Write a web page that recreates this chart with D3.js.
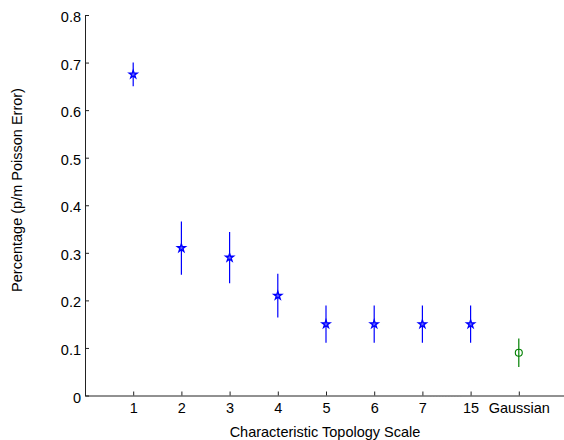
<!DOCTYPE html>
<html>
<head>
<meta charset="utf-8">
<script src="https://cdn.jsdelivr.net/npm/d3@7"></script>
<style>
  body { margin: 0; background: #fff; }
  svg text { font-family: "Liberation Sans", Arial, sans-serif; fill: #000; }
</style>
</head>
<body>
<svg id="chart" width="564" height="440"></svg>
<script>
// values
var categories = ['1', '2', '3', '4', '5', '6', '7', '15', 'Gaussian'];
var percent = [0.675, 0.31, 0.29, 0.21, 0.15, 0.15, 0.15, 0.15, 0.09];
var poissonErr = [0.025, 0.056, 0.054, 0.046, 0.039, 0.039, 0.039, 0.039, 0.03];
var yTicks = [0, 0.1, 0.2, 0.3, 0.4, 0.5, 0.6, 0.7, 0.8];

var svg = d3.select('#chart'),
    plotLeft = 85,
    plotTop = 15,
    plotBottom = 395.5,
    plotRight = 567;

var x = d3.scaleLinear().domain([0, 10]).range([plotLeft, plotRight]);
var y = d3.scaleLinear().domain([0, 0.8]).range([plotBottom, plotTop]);

var points = categories.map(function (c, i) {
  return { label: c, pos: i + 1, v: percent[i], e: poissonErr[i], gauss: c === 'Gaussian' };
});

// axes (MATLAB style: ticks pointing in)
var yAxis = d3.axisLeft(y).tickValues(yTicks).tickSizeInner(-4).tickSizeOuter(0).tickPadding(4)
  .tickFormat(function (d) { return d === 0 ? '0' : d3.format('.1f')(d); });
var gy = svg.append('g').attr('transform', 'translate(' + plotLeft + ',0)').call(yAxis);

var xAxis = d3.axisBottom(x).tickValues(points.map(function (d) { return d.pos; }))
  .tickSizeInner(-4).tickSizeOuter(0).tickPadding(7)
  .tickFormat(function (d) { return categories[d - 1]; });
var gx = svg.append('g').attr('transform', 'translate(0,' + plotBottom + ')').call(xAxis);

[gx, gy].forEach(function (g) {
  g.select('.domain').attr('stroke', '#222').attr('stroke-width', 1);
  g.selectAll('.tick line').attr('stroke', '#222');
  g.selectAll('text').attr('font-size', 14.5).attr('font-family', '"Liberation Sans", Arial, sans-serif');
});
gy.selectAll('.tick text').attr('dy', '0.45em');

// dotted break between 7 and 15
svg.append('line')
  .attr('x1', x(7) + 8).attr('x2', x(8) - 9)
  .attr('y1', plotBottom + 1).attr('y2', plotBottom + 1)
  .attr('stroke', '#888').attr('stroke-width', 1).attr('stroke-dasharray', '1,2');

// error bars
svg.append('g').selectAll('line').data(points).enter().append('line')
  .attr('x1', function (d) { return x(d.pos); })
  .attr('x2', function (d) { return x(d.pos); })
  .attr('y1', function (d) { return y(d.v + d.e); })
  .attr('y2', function (d) { return y(d.v - d.e); })
  .attr('stroke', function (d) { return d.gauss ? '#008000' : '#0000ff'; })
  .attr('stroke-width', 1.2);

// markers
var star = d3.symbol().type(d3.symbolStar).size(20);
svg.append('g').selectAll('path').data(points.filter(function (d) { return !d.gauss; })).enter().append('path')
  .attr('d', star)
  .attr('transform', function (d) { return 'translate(' + x(d.pos) + ',' + y(d.v) + ')'; })
  .attr('fill', '#6666ff').attr('stroke', '#0000ff').attr('stroke-width', 1.3);

svg.append('g').selectAll('circle').data(points.filter(function (d) { return d.gauss; })).enter().append('circle')
  .attr('cx', function (d) { return x(d.pos); })
  .attr('cy', function (d) { return y(d.v); })
  .attr('r', 3.5)
  .attr('fill', 'none').attr('stroke', '#008000').attr('stroke-width', 1.1);

// axis titles
svg.append('text').attr('x', 325).attr('y', 437).attr('text-anchor', 'middle')
  .attr('font-size', 14.5).text('Characteristic Topology Scale');
svg.append('text').attr('transform', 'translate(22,' + 190 + ') rotate(-90)').attr('text-anchor', 'middle')
  .attr('font-size', 14.5).text('Percentage (p/m Poisson Error)');
</script>
</body>
</html>
